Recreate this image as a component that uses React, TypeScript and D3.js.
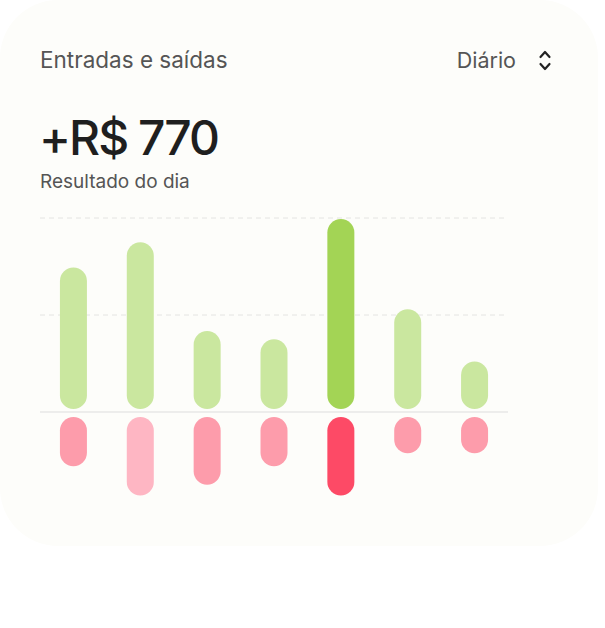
import * as d3 from 'd3';

// Daily inflows / outflows (R$)
const dias: string[] = ['seg', 'ter', 'qua', 'qui', 'sex', 'sáb', 'dom'];
const entradas: number[] = [1490, 1750, 835, 750, 1990, 1060, 520];
const saidas: number[] = [560, 860, 750, 560, 860, 425, 425];
const gridTicks: number[] = [1000, 2000];
const entradaCores: string[] = ['#cae79f', '#cae79f', '#cae79f', '#cae79f', '#a3d455', '#cae79f', '#cae79f'];
const saidaCores: string[] = ['#fd9cab', '#feb6c3', '#fd9cab', '#fd9cab', '#fd4a66', '#fd9cab', '#fd9cab'];

const titulo = 'Entradas e saídas';
const periodo = 'Diário';
const resultado = '+R$ 770';
const legenda = 'Resultado do dia';

const W = 605;
const H = 628;
const FONT = 'Inter, "Noto Sans", sans-serif';

export default function App() {
    // Scales
    const x = d3.scalePoint<string>().domain(dias).range([40, 508]).padding(0.5);
    const y = d3.scaleLinear().domain([-1000, 2000]).range([509, 218]);
    const barW = 27;
    const gapTop = 3;
    const gapBottom = 5;

    return (
        <div style={{ position: 'absolute', left: 0, top: 0, width: W, height: H, background: '#ffffff' }}>
            <svg width={W} height={H} style={{ display: 'block' }} fontFamily={FONT}>
                {/* Card */}
                <rect x={0} y={0} width={598} height={546} rx={58} fill="#fdfdfa" />

                {/* Header */}
                <text x={40} y={68} fontSize={22.5} fill="#555555">{titulo}</text>
                <text x={516} y={68} fontSize={21.5} fill="#555555" textAnchor="end">{periodo}</text>
                <path d="M540.5,57 L545,52 L549.5,57 M540.5,64 L545,69 L549.5,64"
                      fill="none" stroke="#222222" strokeWidth={2.2} strokeLinecap="round" strokeLinejoin="round" />

                <text x={39} y={155} fontSize={48} fontWeight={500} letterSpacing={-2} fill="#1f1f1f">{resultado}</text>
                <text x={40} y={188} fontSize={19} fill="#555555">{legenda}</text>

                {/* Grid */}
                {gridTicks.map(t => (
                    <line key={t} x1={40} x2={508} y1={y(t)} y2={y(t)}
                          stroke="#e4e4e2" strokeWidth={1} strokeDasharray="5 4" />
                ))}
                <line x1={40} x2={508} y1={y(0)} y2={y(0)} stroke="#dddddd" strokeWidth={1} />

                {/* Inflows */}
                {dias.map((d, i) => {
                    const top = y(entradas[i]);
                    const h = y(0) - gapTop - top;
                    return (
                        <rect key={'e' + d} x={(x(d) ?? 0) - barW / 2} y={top} width={barW} height={h}
                              rx={barW / 2} fill={entradaCores[i]} />
                    );
                })}

                {/* Outflows */}
                {dias.map((d, i) => {
                    const top = y(0) + gapBottom;
                    const h = y(-saidas[i]) - top;
                    return (
                        <rect key={'s' + d} x={(x(d) ?? 0) - barW / 2} y={top} width={barW} height={h}
                              rx={barW / 2} fill={saidaCores[i]} />
                    );
                })}
            </svg>
        </div>
    );
}
